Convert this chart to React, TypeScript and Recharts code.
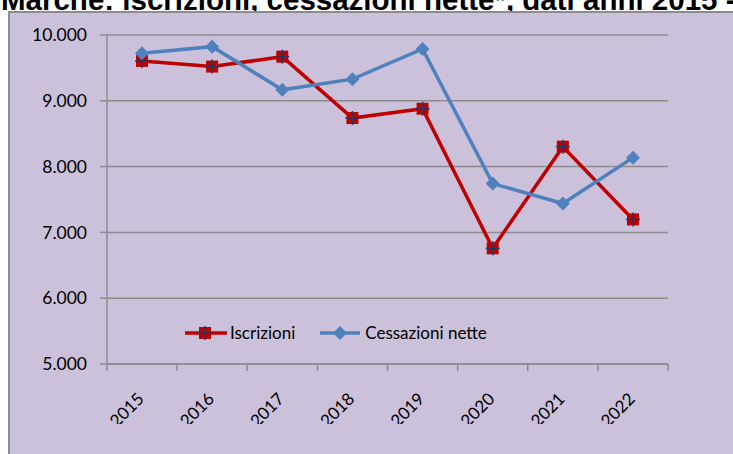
import React from 'react'
import { LineChart, Line, XAxis, YAxis, CartesianGrid, Legend } from 'recharts'

const years = ['2015', '2016', '2017', '2018', '2019', '2020', '2021', '2022']
const iscrizioni = [9606, 9520, 9671, 8738, 8879, 6758, 8303, 7197]
const cessazioniNette = [9723, 9823, 9167, 9329, 9788, 7742, 7439, 8136]
const yTicks = [5000, 6000, 7000, 8000, 9000, 10000]

const data = years.map((year, i) => ({
    year,
    iscrizioni: iscrizioni[i],
    cessazioni: cessazioniNette[i],
}))

const RED = '#C00000'
const BLUE = '#4F81BD'
const CROSS = '#2B3560'
const AXIS = '#8C8C8C'
const FONT = 'Lato, "Open Sans", sans-serif'
// half a category slot, so points sit between the tick marks like in Excel
const PAD = 35

const fmt = (v: number) => String(v).replace(/\B(?=(\d{3})+(?!\d))/g, '.')

function SquareDot({ cx, cy }: any) {
    if (cx == null || cy == null) return null
    return (
        <g>
            <rect x={cx - 6} y={cy - 6} width={12} height={12} fill={RED} />
            <line x1={cx - 7} x2={cx + 7} y1={cy} y2={cy} stroke={CROSS} strokeWidth={1.5} />
            <line x1={cx} x2={cx} y1={cy - 7} y2={cy + 7} stroke={CROSS} strokeWidth={1.5} />
        </g>
    )
}

function DiamondDot({ cx, cy }: any) {
    if (cx == null || cy == null) return null
    return <polygon points={`${cx},${cy - 7} ${cx + 7},${cy} ${cx},${cy + 7} ${cx - 7},${cy}`} fill={BLUE} />
}

function YearTick(props: any) {
    const { x, y, payload, index, visibleTicksCount, width } = props
    const half = width && visibleTicksCount ? width / visibleTicksCount / 2 : PAD
    const tx = x + 3
    const ty = y + 36
    return (
        <g>
            <line x1={x - half} x2={x - half} y1={y} y2={y + 7} stroke={AXIS} strokeWidth={1.5} />
            {index === visibleTicksCount - 1 && (
                <line x1={x + half} x2={x + half} y1={y} y2={y + 7} stroke={AXIS} strokeWidth={1.5} />
            )}
            <text x={tx} y={ty} transform={`rotate(-45 ${tx} ${ty})`} textAnchor="end" fontSize={17} fill="#000" fontFamily={FONT}>
                {payload.value}
            </text>
        </g>
    )
}

function LegendContent() {
    return (
        <div style={{ display: 'flex', alignItems: 'center', fontFamily: FONT, fontSize: 17, color: '#000' }}>
            <svg width={44} height={16} style={{ marginRight: 2 }}>
                <line x1={1} x2={43} y1={8} y2={8} stroke={RED} strokeWidth={3.5} />
                <SquareDot cx={21} cy={8} />
            </svg>
            <span>Iscrizioni</span>
            <svg width={44} height={16} style={{ marginLeft: 24, marginRight: 2 }}>
                <line x1={1} x2={41} y1={8} y2={8} stroke={BLUE} strokeWidth={3.5} />
                <DiamondDot cx={21} cy={8} />
            </svg>
            <span>Cessazioni nette</span>
        </div>
    )
}

export default function App() {
    return (
        <div style={{ position: 'fixed', left: 0, top: 0, width: 733, height: 454, overflow: 'hidden', background: '#fff' }}>
            <svg width={733} height={20} style={{ position: 'absolute', left: 0, top: 0 }}>
                <text x={1} y={10} fontSize={29.5} fontWeight="bold" fontFamily='"Liberation Sans", Arial, sans-serif' fill="#000">
                    Marche: iscrizioni, cessazioni nette*, dati anni 2015 - 2022
                </text>
            </svg>
            <div
                style={{
                    position: 'absolute', left: 8, top: 11, width: 760, height: 480,
                    background: '#CBC1DA', borderLeft: `2px solid ${AXIS}`, borderTop: `2px solid ${AXIS}`,
                }}
            />
            <div style={{ position: 'absolute', left: 0, top: 0, width: 733, height: 424, overflow: 'hidden' }}>
                <LineChart width={733} height={454} data={data} margin={{ top: 35, right: 65, left: 47, bottom: 30 }}>
                    <CartesianGrid vertical={false} stroke={AXIS} strokeWidth={1.5} />
                    <XAxis
                        dataKey="year"
                        interval={0}
                        height={60}
                        padding={{ left: PAD, right: PAD }}
                        tickLine={false}
                        tickSize={0}
                        tickMargin={0}
                        axisLine={{ stroke: AXIS, strokeWidth: 1.5 }}
                        tick={<YearTick />}
                    />
                    <YAxis
                        domain={[5000, 10000]}
                        ticks={yTicks}
                        width={60}
                        tickSize={7}
                        tickMargin={13}
                        tickFormatter={fmt}
                        axisLine={{ stroke: AXIS, strokeWidth: 1.5 }}
                        tickLine={{ stroke: AXIS, strokeWidth: 1.5 }}
                        tick={{ fill: '#000', fontSize: 17.5, fontFamily: FONT }}
                    />
                    <Legend
                        layout="horizontal"
                        verticalAlign="middle"
                        align="center"
                        wrapperStyle={{ left: 184, top: 322, width: 320 }}
                        content={<LegendContent />}
                    />
                    <Line dataKey="iscrizioni" name="Iscrizioni" stroke={RED} strokeWidth={3.5} dot={<SquareDot />} activeDot={false} isAnimationActive={false} />
                    <Line dataKey="cessazioni" name="Cessazioni nette" stroke={BLUE} strokeWidth={3.5} dot={<DiamondDot />} activeDot={false} isAnimationActive={false} />
                </LineChart>
            </div>
        </div>
    )
}
